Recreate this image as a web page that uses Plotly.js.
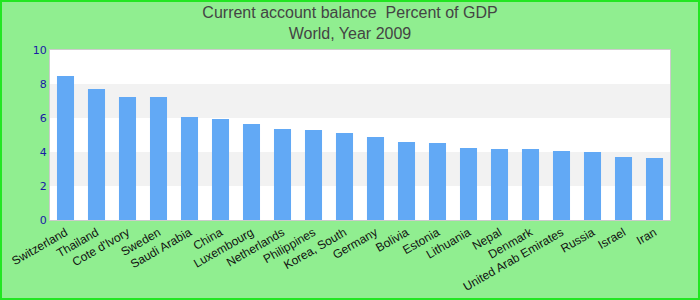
<!DOCTYPE html>
<html><head><meta charset="utf-8">
<script src="https://cdn.plot.ly/plotly-3.0.1.min.js"></script>
<style>
html,body{margin:0;padding:0;background:#90ee90;}
#wrap{position:relative;width:700px;height:300px;}
#chart{width:700px;height:300px;}
#frame{position:absolute;left:0;top:0;width:700px;height:300px;box-sizing:border-box;border:2px solid #22e622;pointer-events:none;}
</style></head>
<body><div id="wrap"><div id="chart"></div><div id="frame"></div></div>
<script>
const countries = ["Switzerland","Thailand","Cote d'Ivory","Sweden","Saudi Arabia","China","Luxembourg","Netherlands","Philippines","Korea, South","Germany","Bolivia","Estonia","Lithuania","Nepal","Denmark","United Arab Emirates","Russia","Israel","Iran"];
const values = [8.47,7.71,7.24,7.24,6.06,5.94,5.65,5.35,5.29,5.12,4.88,4.59,4.53,4.24,4.18,4.18,4.06,4.0,3.71,3.65];
const yTicks = [0,2,4,6,8,10];
const shadedBands = [[2,4],[6,8]];

const shapes = shadedBands.map(b => ({type:'rect', xref:'paper', yref:'y', x0:0, x1:1, y0:b[0], y1:b[1], fillcolor:'#f2f2f2', line:{width:0}, layer:'below'}));

Plotly.newPlot('chart', [{
  type:'bar', x:countries, y:values,
  marker:{color:'#62a9f5'}, hoverinfo:'x+y'
}], {
  width:700, height:300,
  paper_bgcolor:'#90ee90', plot_bgcolor:'#ffffff',
  margin:{l:50, r:30, t:50, b:80},
  title:{text:'Current account balance  Percent of GDP<br>World, Year 2009', x:0.5, xanchor:'center', y:0.94, yanchor:'middle',
    font:{family:'Liberation Sans, Arial, sans-serif', size:16, color:'#444444'}},
  bargap:0.45,
  shapes:shapes,
  xaxis:{tickangle:-30, tickfont:{family:'Liberation Sans, Arial, sans-serif', size:12, color:'#111111'},
    showline:true, linecolor:'#cccccc', linewidth:1, mirror:true, showgrid:false, ticks:'', automargin:false},
  yaxis:{range:[0,10], tickvals:yTicks, ticktext:yTicks.map(String), showgrid:false, zeroline:false,
    tickfont:{family:'DejaVu Sans, sans-serif', size:11, color:'#1a1aa6'},
    showline:true, linecolor:'#cccccc', linewidth:1, mirror:true, ticks:'', automargin:false},
  showlegend:false
}, {displayModeBar:false});
</script></body></html>
